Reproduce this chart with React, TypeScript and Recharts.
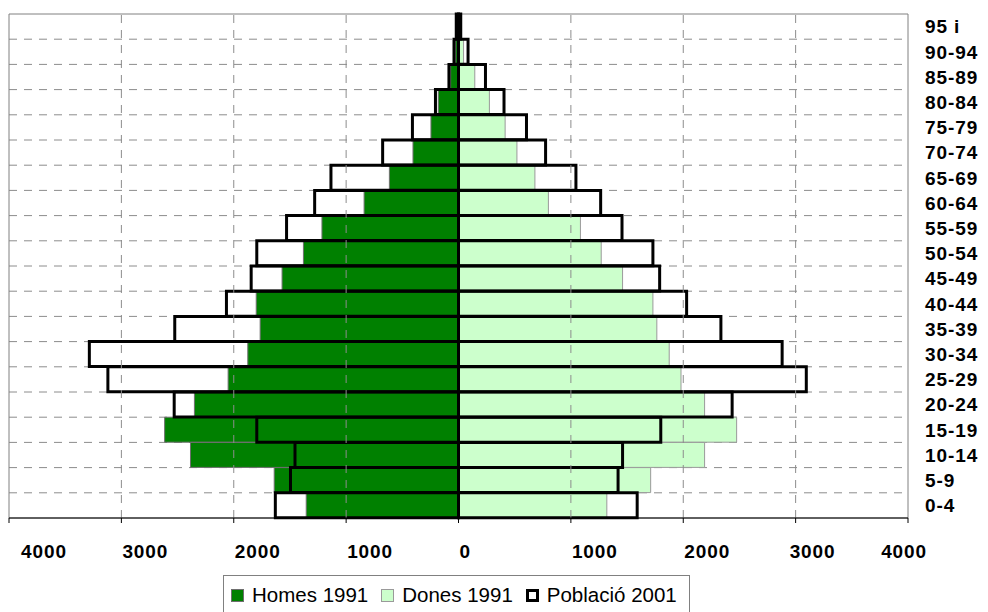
import React from "react";
import { BarChart, Bar, XAxis, YAxis, CartesianGrid, Legend, ReferenceArea, ReferenceLine } from "recharts";

const ageGroups = ["95 i", "90-94", "85-89", "80-84", "75-79", "70-74", "65-69", "60-64", "55-59", "50-54", "45-49", "40-44", "35-39", "30-34", "25-29", "20-24", "15-19", "10-14", "5-9", "0-4"];
const homes1991 = [10, 25, 70, 180, 245, 405, 615, 840, 1215, 1380, 1570, 1800, 1765, 1875, 2050, 2350, 2615, 2385, 1640, 1355];
const dones1991 = [10, 45, 145, 275, 415, 520, 680, 800, 1085, 1270, 1460, 1730, 1765, 1875, 1980, 2190, 2475, 2190, 1710, 1320];
const homes2001 = [20, 40, 85, 205, 410, 675, 1135, 1280, 1530, 1795, 1845, 2065, 2525, 3285, 3120, 2530, 1795, 1455, 1495, 1630];
const dones2001 = [20, 85, 240, 405, 605, 775, 1045, 1265, 1455, 1730, 1790, 2030, 2335, 2880, 3095, 2435, 1800, 1460, 1420, 1590];
const xTicks = [-4000, -3000, -2000, -1000, 0, 1000, 2000, 3000, 4000];
const gridXs = [-3000, -2000, -1000, 1000, 2000, 3000];
const legendLabels = ["Homes 1991", "Dones 1991", "Població 2001"];

const data = ageGroups.map((age, i) => ({
  age,
  h91: -homes1991[i],
  d91: dones1991[i],
  h01: -homes2001[i],
  d01: dones2001[i],
}));

const FONT = '"Liberation Sans", Arial, Helvetica, sans-serif';
const GRID = "#8c8c8c";
const DASH = "8 7";

const XTick = (props: any) => {
  const { x, y, payload } = props;
  const v = payload.value;
  let anchor = "start";
  let dx = 1;
  if (v === xTicks[0]) dx = 12;
  if (v === 3000) dx = -6;
  if (v === xTicks[xTicks.length - 1]) {
    anchor = "end";
    dx = 19;
  }
  return (
    <text x={x + dx} y={y} dy="0.71em" textAnchor={anchor} fontFamily={FONT} fontWeight="bold" fontSize={19} letterSpacing={0.9} fill="#000">
      {String(Math.abs(v))}
    </text>
  );
};

const gridH = (args: any) => {
  const { yAxis, offset } = args || {};
  const sc = yAxis && yAxis.scale;
  if (sc && typeof sc === "function") {
    const pts = ageGroups.map((a) => sc(a)).filter((v: any) => typeof v === "number" && !isNaN(v));
    if (pts.length === ageGroups.length) return pts.slice(1);
  }
  const n = ageGroups.length;
  const out: number[] = [];
  for (let i = 1; i < n; i++) out.push(offset.top + (i * offset.height) / n);
  return out;
};

const LegendBox = () => {
  const icons = [
    { background: "#008000", border: "1px solid #6f6f6f" },
    { background: "#CCFFCC", border: "1px solid #9a9a9a" },
    { background: "#ffffff", border: "3px solid #000" },
  ];
  return (
    <div
      style={{
        boxSizing: "border-box",
        width: 467,
        height: 37,
        border: "1px solid #808080",
        borderBottom: "none",
        background: "#fff",
        fontFamily: FONT,
        fontSize: 20.5,
        color: "#000",
        display: "flex",
        alignItems: "center",
        paddingLeft: 7,
        paddingTop: 2,
        whiteSpace: "nowrap",
      }}
    >
      {legendLabels.map((l, i) => (
        <div key={l} style={{ display: "flex", alignItems: "center", marginRight: 13 }}>
          <div style={{ boxSizing: "border-box", width: 13, height: 13, marginRight: 8, ...icons[i] }} />
          <span style={{ lineHeight: "22px" }}>{l}</span>
        </div>
      ))}
    </div>
  );
};

export default function App() {
  return (
    <div style={{ position: "absolute", left: 0, top: 0, width: 988, height: 612, overflow: "hidden", background: "#fff" }}>
      <BarChart
        width={988}
        height={612}
        data={data}
        layout="vertical"
        stackOffset="sign"
        barCategoryGap={0}
        barGap={0}
        margin={{ top: 14, right: 0, bottom: 54, left: 9 }}
      >
        <CartesianGrid
          yAxisId="a"
          vertical={false}
          stroke={GRID}
          strokeDasharray={DASH}
          horizontalCoordinatesGenerator={gridH}
        />
        {gridXs.map((v) => (
          <ReferenceLine key={v} yAxisId="a" x={v} stroke={GRID} strokeDasharray={DASH} strokeWidth={1} />
        ))}
        <XAxis
          type="number"
          domain={[-4000, 4000]}
          ticks={xTicks}
          interval={0}
          allowDataOverflow
          height={40}
          tickSize={5}
          tickMargin={22}
          axisLine={{ stroke: "#000", strokeWidth: 1 }}
          tickLine={{ stroke: "#000" }}
          tick={<XTick />}
        />
        <YAxis
          yAxisId="a"
          type="category"
          dataKey="age"
          orientation="right"
          interval={0}
          width={80}
          axisLine={false}
          tickLine={false}
          tickSize={0}
          tickMargin={17}
          tick={{ fontFamily: FONT, fontWeight: "bold", fontSize: 19, letterSpacing: 0.9, fill: "#000" }}
        />
        <YAxis yAxisId="b" type="category" dataKey="age" hide />
        <ReferenceArea yAxisId="a" x1={-4000} x2={4000} fill="none" stroke="#808080" strokeWidth={1} ifOverflow="visible" />
        <Bar yAxisId="a" dataKey="h91" name={legendLabels[0]} stackId="y91" fill="#008000" stroke="#6f6f6f" strokeWidth={1} isAnimationActive={false} />
        <Bar yAxisId="a" dataKey="d91" name={legendLabels[1]} stackId="y91" fill="#CCFFCC" stroke="#9a9a9a" strokeWidth={1} isAnimationActive={false} />
        <Bar yAxisId="b" dataKey="h01" name={legendLabels[2]} stackId="p01" fill="none" stroke="#000" strokeWidth={3} isAnimationActive={false} />
        <Bar yAxisId="b" dataKey="d01" stackId="p01" fill="none" stroke="#000" strokeWidth={3} isAnimationActive={false} legendType="none" />
        <Legend
          layout="horizontal"
          verticalAlign="middle"
          align="center"
          wrapperStyle={{ position: "absolute", left: 223, top: 575, width: 467, height: 37 }}
          content={() => <LegendBox />}
        />
      </BarChart>
    </div>
  );
}
